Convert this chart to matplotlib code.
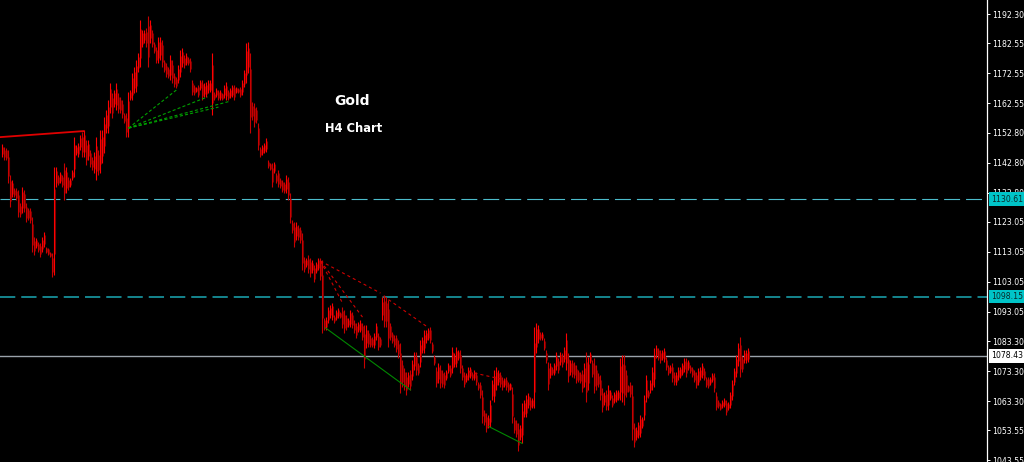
import matplotlib
matplotlib.use("Agg")
import matplotlib.pyplot as plt
import numpy as np
from matplotlib.transforms import blended_transform_factory

plt.rcParams['lines.scale_dashes'] = False

# ---------------- data (XAUUSD H4 bars: highs / lows) ----------------
highs = [
    1149.0, 1148.0, 1147.7, 1147.0, 1138.7, 1137.0, 1134.3, 1134.3, 1133.7, 1129.3,
    1134.7, 1133.7, 1129.3, 1127.7, 1127.7, 1124.7, 1118.0, 1117.7, 1116.3, 1116.0,
    1118.0, 1119.7, 1114.7, 1114.3, 1113.0, 1112.7, 1141.3, 1141.3, 1138.7, 1139.7,
    1138.7, 1142.7, 1141.3, 1138.0, 1137.7, 1140.3, 1151.3, 1148.7, 1149.3, 1152.0,
    1153.0, 1153.7, 1150.3, 1150.3, 1147.0, 1144.7, 1146.3, 1151.3, 1147.0, 1153.7,
    1153.7, 1158.0, 1160.3, 1163.7, 1169.3, 1166.0, 1167.0, 1169.3, 1166.0, 1164.7,
    1163.7, 1159.3, 1159.3, 1166.3, 1167.0, 1172.7, 1174.7, 1177.0, 1179.3, 1190.3,
    1187.0, 1187.0, 1187.7, 1191.7, 1190.3, 1187.0, 1183.0, 1181.3, 1184.7, 1184.7,
    1183.7, 1177.0, 1176.0, 1174.7, 1178.7, 1177.0, 1172.7, 1171.3, 1175.3, 1180.3,
    1181.0, 1178.7, 1179.3, 1178.0, 1177.7, 1170.3, 1168.7, 1168.0, 1168.7, 1170.3,
    1170.3, 1169.3, 1169.7, 1170.3, 1170.3, 1179.3, 1166.3, 1167.7, 1167.0, 1167.0,
    1166.0, 1168.7, 1169.7, 1167.0, 1167.7, 1168.7, 1168.7, 1168.0, 1167.7, 1168.0,
    1170.3, 1173.7, 1182.7, 1183.0, 1179.3, 1163.0, 1162.7, 1161.3, 1156.0, 1148.0,
    1148.7, 1149.3, 1151.0, 1143.7, 1142.7, 1142.7, 1143.0, 1139.3, 1140.3, 1137.7,
    1137.0, 1136.3, 1138.7, 1138.0, 1132.7, 1123.7, 1123.0, 1123.0, 1122.0, 1121.3,
    1119.3, 1111.3, 1111.0, 1112.0, 1111.0, 1110.3, 1108.7, 1109.7, 1111.0, 1111.0,
    1110.3, 1091.0, 1091.3, 1094.7, 1095.3, 1096.0, 1092.0, 1093.7, 1094.3, 1093.0,
    1094.7, 1093.7, 1092.0, 1091.0, 1093.7, 1093.0, 1090.3, 1089.3, 1089.7, 1090.3,
    1089.3, 1088.7, 1088.7, 1087.0, 1085.3, 1084.7, 1086.0, 1089.3, 1086.0, 1084.7,
    1098.0, 1098.7, 1098.0, 1097.0, 1089.3, 1086.3, 1085.3, 1085.3, 1083.7, 1082.7,
    1077.0, 1074.3, 1073.0, 1073.0, 1073.7, 1077.0, 1079.7, 1079.7, 1076.0, 1083.7,
    1084.7, 1087.0, 1087.0, 1087.7, 1088.0, 1083.0, 1078.7, 1074.7, 1076.0, 1075.3,
    1073.7, 1073.0, 1073.7, 1076.0, 1075.3, 1081.3, 1079.3, 1081.3, 1080.3, 1080.3,
    1075.3, 1073.0, 1072.7, 1074.7, 1074.7, 1073.0, 1073.7, 1073.0, 1069.7, 1069.7,
    1067.0, 1060.3, 1059.3, 1058.7, 1063.7, 1070.3, 1073.7, 1074.7, 1073.7, 1073.0,
    1071.3, 1071.0, 1071.3, 1069.7, 1069.3, 1068.0, 1058.0, 1057.0, 1056.0, 1055.3,
    1062.7, 1063.7, 1065.3, 1066.0, 1064.7, 1064.3, 1088.0, 1089.3, 1088.7, 1086.3,
    1086.3, 1084.3, 1080.3, 1076.3, 1076.0, 1074.7, 1076.0, 1079.7, 1077.7, 1079.7,
    1079.3, 1081.3, 1086.0, 1079.3, 1077.0, 1077.0, 1076.3, 1075.3, 1073.7, 1073.0,
    1073.7, 1076.0, 1079.7, 1078.0, 1079.7, 1077.0, 1077.7, 1075.3, 1072.7, 1072.0,
    1067.7, 1066.3, 1067.0, 1068.7, 1067.0, 1065.3, 1066.3, 1067.0, 1067.0, 1077.7,
    1078.7, 1078.7, 1073.7, 1068.7, 1069.7, 1068.7, 1056.0, 1054.7, 1056.3, 1058.7,
    1058.0, 1065.3, 1072.0, 1067.0, 1070.3, 1074.7, 1081.0, 1082.0, 1081.0, 1080.3,
    1080.3, 1081.0, 1078.0, 1075.3, 1075.3, 1076.0, 1073.0, 1073.0, 1074.7, 1074.7,
    1076.0, 1077.7, 1077.7, 1077.0, 1075.3, 1074.7, 1073.7, 1073.0, 1074.3, 1074.7,
    1076.0, 1074.3, 1071.3, 1071.3, 1071.3, 1072.7, 1072.7, 1066.3, 1063.7, 1062.7,
    1063.7, 1064.3, 1063.7, 1063.0, 1066.3, 1070.3, 1074.3, 1078.7, 1082.7, 1084.7,
    1078.3, 1080.3, 1080.3, 1081.0,
]
lows = [
    1144.7, 1143.7, 1143.7, 1136.0, 1128.0, 1131.3, 1131.3, 1130.3, 1124.7, 1124.7,
    1126.0, 1126.3, 1123.0, 1123.7, 1122.7, 1113.0, 1112.0, 1114.3, 1113.0, 1111.3,
    1113.0, 1114.7, 1112.7, 1112.0, 1111.3, 1104.7, 1105.3, 1134.7, 1135.3, 1136.0,
    1134.7, 1130.3, 1132.7, 1133.7, 1134.7, 1137.0, 1138.0, 1145.3, 1144.7, 1147.0,
    1144.7, 1144.7, 1142.0, 1143.7, 1141.3, 1140.3, 1139.3, 1137.0, 1138.7, 1139.3,
    1142.7, 1146.0, 1152.7, 1152.7, 1159.3, 1157.7, 1161.3, 1160.3, 1159.3, 1159.3,
    1157.7, 1156.0, 1151.3, 1151.3, 1163.7, 1163.7, 1166.0, 1166.3, 1173.0, 1174.7,
    1181.3, 1182.7, 1181.3, 1174.7, 1182.7, 1181.3, 1179.3, 1176.0, 1176.0, 1177.0,
    1174.7, 1173.0, 1171.3, 1171.0, 1170.3, 1169.3, 1168.0, 1167.7, 1169.3, 1171.3,
    1174.7, 1174.3, 1175.3, 1175.3, 1173.0, 1165.3, 1165.3, 1166.3, 1164.7, 1167.0,
    1163.7, 1164.7, 1164.7, 1166.0, 1166.3, 1158.7, 1163.7, 1164.7, 1163.7, 1163.7,
    1163.7, 1164.3, 1163.7, 1163.7, 1164.3, 1164.7, 1163.7, 1166.0, 1166.0, 1164.7,
    1165.3, 1168.0, 1169.3, 1172.7, 1152.7, 1157.0, 1154.7, 1156.0, 1147.0, 1144.7,
    1145.3, 1146.0, 1146.3, 1141.0, 1140.3, 1134.7, 1139.3, 1136.0, 1134.7, 1134.3,
    1133.0, 1132.7, 1132.7, 1130.3, 1122.7, 1119.3, 1114.7, 1117.0, 1117.0, 1116.0,
    1107.0, 1106.3, 1108.0, 1106.0, 1104.7, 1106.0, 1103.0, 1106.0, 1107.0, 1103.7,
    1086.0, 1087.0, 1087.0, 1089.3, 1091.0, 1090.3, 1089.3, 1090.3, 1091.0, 1091.0,
    1087.7, 1086.0, 1087.0, 1088.0, 1088.0, 1087.7, 1086.0, 1084.3, 1086.3, 1086.3,
    1083.7, 1074.3, 1081.0, 1081.3, 1081.3, 1081.3, 1081.0, 1083.7, 1080.3, 1081.3,
    1090.3, 1088.0, 1088.0, 1081.3, 1083.7, 1082.7, 1081.3, 1079.7, 1077.7, 1066.0,
    1068.0, 1067.0, 1065.3, 1068.0, 1067.0, 1070.3, 1073.7, 1072.0, 1072.0, 1074.7,
    1079.3, 1079.3, 1082.7, 1083.7, 1082.7, 1079.3, 1075.3, 1068.0, 1069.3, 1067.7,
    1068.0, 1067.7, 1070.3, 1072.7, 1071.3, 1072.7, 1074.7, 1074.7, 1077.0, 1072.7,
    1070.3, 1068.0, 1069.7, 1070.3, 1071.0, 1070.3, 1070.3, 1068.7, 1067.0, 1064.3,
    1056.0, 1055.3, 1053.0, 1054.3, 1054.7, 1063.7, 1063.0, 1067.0, 1068.7, 1068.0,
    1067.0, 1068.0, 1067.0, 1066.3, 1067.0, 1056.0, 1052.7, 1051.3, 1046.7, 1050.3,
    1049.3, 1058.0, 1058.0, 1061.0, 1060.3, 1061.0, 1061.0, 1079.3, 1082.7, 1083.7,
    1083.7, 1080.3, 1076.0, 1067.0, 1071.0, 1072.0, 1072.0, 1073.7, 1072.7, 1075.3,
    1074.7, 1076.3, 1073.7, 1069.7, 1072.0, 1071.3, 1071.0, 1069.3, 1069.7, 1069.3,
    1066.3, 1068.0, 1063.0, 1067.0, 1076.0, 1071.3, 1066.0, 1067.0, 1068.0, 1063.7,
    1059.7, 1062.0, 1060.3, 1060.3, 1063.7, 1061.3, 1062.7, 1063.0, 1063.7, 1063.7,
    1063.0, 1062.0, 1064.7, 1066.3, 1064.7, 1050.3, 1048.0, 1050.3, 1051.0, 1051.3,
    1054.3, 1057.0, 1063.0, 1064.3, 1066.0, 1067.0, 1068.0, 1077.7, 1077.0, 1076.0,
    1077.0, 1076.3, 1073.7, 1072.0, 1072.7, 1069.7, 1068.7, 1068.7, 1070.3, 1071.0,
    1072.0, 1073.0, 1071.3, 1073.7, 1072.7, 1071.3, 1069.7, 1067.7, 1068.7, 1070.3,
    1071.0, 1070.3, 1068.0, 1067.7, 1068.7, 1069.7, 1066.3, 1060.3, 1061.0, 1060.3,
    1061.0, 1061.3, 1058.7, 1060.3, 1061.0, 1063.7, 1068.7, 1071.3, 1075.0, 1071.3,
    1073.0, 1076.0, 1076.0, 1076.3,
]

tick_values = [1192.30, 1182.55, 1172.55, 1162.55, 1152.80, 1142.80, 1132.80, 1123.05,
               1113.05, 1103.05, 1093.05, 1083.30, 1073.30, 1063.30, 1053.55, 1043.55]
tick_labels = ["%.2f" % v for v in tick_values]

level_values = [1130.61, 1098.15, 1078.43]
level_labels = ["1130.61", "1098.15", "1078.43"]

# drawn objects: (bar index, price) pairs
red_trend = [(-0.5, 1151.3), (41.0, 1153.3)]
green_fan_origin = (63.5, 1154.3)
green_fan_ends = [(88.0, 1167.3), (103.0, 1164.7), (114.5, 1163.3), (108.5, 1161.3)]
red_fan_origin = (159.5, 1110.0)
red_fan_ends = [(189.5, 1099.3), (170.5, 1096.0), (180.5, 1091.3)]
red_dotted_segments = [[(191.0, 1098.3), (213.0, 1088.0)],
                       [(233.5, 1073.1), (252.0, 1070.3)]]
green_segments = [[(162.0, 1087.7), (204.5, 1067.0)],
                  [(243.7, 1054.8), (260.3, 1049.2)]]

title_main = "Gold"
title_sub = "H4 Chart"

# ---------------- figure ----------------
W, H = 1024, 462
fig = plt.figure(figsize=(W / 100, H / 100), dpi=100, facecolor="black")
axw = 987 / W
ax = fig.add_axes([0, 0, axw, 1])
ax.set_facecolor("black")
# 2 px per bar; bar centres fall on pixel centres
ax.set_xlim(-0.75, 492.75)
ax.set_ylim(1043.0, 1197.0)

hi = np.array(highs)
lo = np.array(lows)
x = np.arange(len(hi))
mid = (hi + lo) / 2
up = np.concatenate([[True], mid[1:] >= mid[:-1]])
main_cols = np.where(up, "#ff0000", "#c80000")
ax.vlines(x, lo, hi, colors=main_cols, linewidth=0.8, zorder=3)
# darker shading column (candle body look)
ax.vlines(x + 0.5, lo * 0.8 + hi * 0.2, lo * 0.2 + hi * 0.8, colors="#780000",
          linewidth=0.8, zorder=2.9)

# level lines
ax.axhline(level_values[0], color="#4cbccb", lw=0.8, ls=(0, (11.5, 4.3)), zorder=2)
ax.axhline(level_values[1], color="#178f99", lw=1.3, ls=(0, (11, 4.3)), zorder=2)
ax.axhline(level_values[2], color="#9aa2aa", lw=1.0, zorder=2)

# objects
ax.plot([p[0] for p in red_trend], [p[1] for p in red_trend], color="#e00000", lw=1.3, zorder=4)
for e in green_fan_ends:
    ax.plot([green_fan_origin[0], e[0]], [green_fan_origin[1], e[1]], color="#00a000",
            lw=0.8, ls=(0, (2.2, 1.6)), zorder=4)
for e in red_fan_ends:
    ax.plot([red_fan_origin[0], e[0]], [red_fan_origin[1], e[1]], color="#d00000",
            lw=0.8, ls=(0, (2.2, 2.2)), zorder=4)
for seg in red_dotted_segments:
    ax.plot([seg[0][0], seg[1][0]], [seg[0][1], seg[1][1]], color="#d00000",
            lw=0.8, ls=(0, (2.2, 2.2)), zorder=4)
for seg in green_segments:
    ax.plot([seg[0][0], seg[1][0]], [seg[0][1], seg[1][1]], color="#008800",
            lw=0.8, zorder=4)

# axes styling
for s in ["left", "top", "bottom"]:
    ax.spines[s].set_visible(False)
ax.spines["right"].set_color("white")
ax.spines["right"].set_linewidth(0.9)
ax.set_xticks([])
ax.yaxis.tick_right()
ax.set_yticks(tick_values)
ax.set_yticklabels(tick_labels)
ax.tick_params(axis="y", colors="white", length=2.2, width=0.7, pad=1.6,
               labelsize=5.6, direction="out")

trans = blended_transform_factory(ax.transAxes, ax.transData)
box_styles = [("#00c4c8", "#0a2a2a"), ("#00c4c8", "#0a2a2a"), ("#ffffff", "#000000")]
for v, lab, (fc, tc) in zip(level_values, level_labels, box_styles):
    ax.text(1.0 + 4.5 / 987, v, lab, transform=trans, fontsize=5.6, color=tc,
            ha="left", va="center", clip_on=False, zorder=10,
            bbox=dict(boxstyle="square,pad=0.3", fc=fc, ec="none"))

fig.text(352 / W, 1 - 101 / H, title_main, color="white", fontsize=10,
         fontweight="bold", ha="center", va="center", family="DejaVu Sans")
fig.text(354 / W, 1 - 128 / H, title_sub, color="white", fontsize=8.3,
         fontweight="bold", ha="center", va="center", family="DejaVu Sans")

fig.savefig("out.png", dpi=100, facecolor="black")
